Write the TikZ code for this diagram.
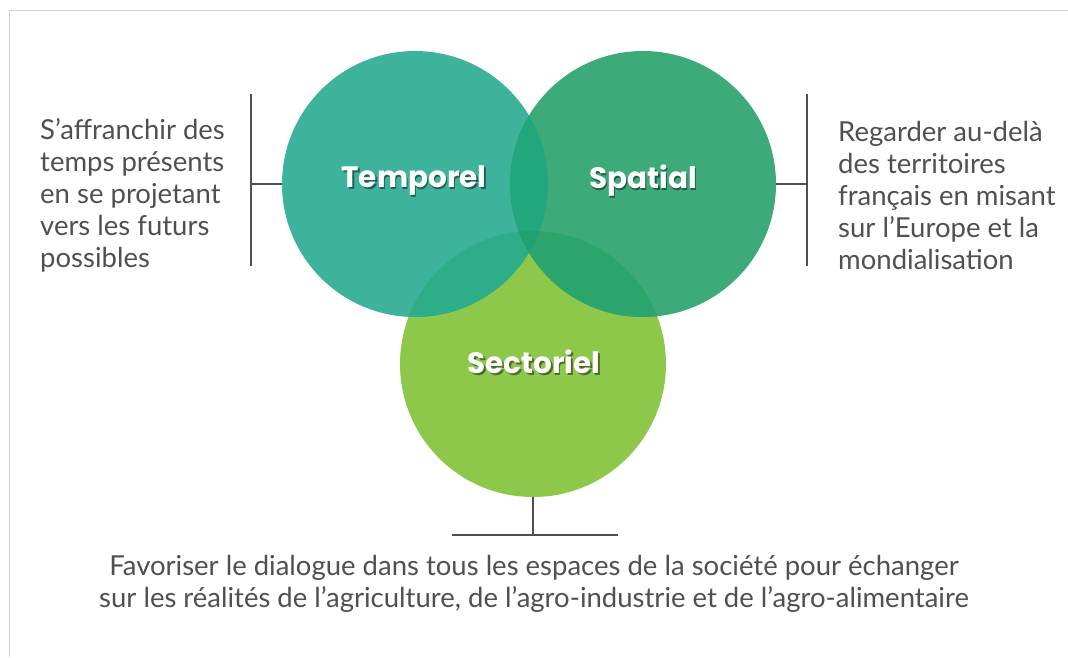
\documentclass[tikz,border=0pt]{standalone}
\usepackage{fontspec}
\setmainfont{Lato}
\newfontfamily\heavy{Poppins}
\usetikzlibrary{calc}
\definecolor{txt}{HTML}{505050}
\definecolor{tcol}{HTML}{3DB39C}
\definecolor{scol}{HTML}{3DAA7A}
\definecolor{ccol}{HTML}{8DC84B}
\definecolor{tscol}{HTML}{22A67C}
\definecolor{tccol}{HTML}{2DAE88}
\definecolor{sccol}{HTML}{2CA56C}
\definecolor{allcol}{HTML}{1FA172}
\definecolor{frame}{HTML}{D0D0D0}
\tikzset{
  bubble/.style={circle, minimum size=266pt, inner sep=0pt, draw=none},
  bracket/.style={draw=txt, line width=1.7pt},
  desc/.style={text=txt, font=\fontsize{27.5}{32}\selectfont, inner sep=0pt},
  lbl/.style={font=\heavy\bfseries\fontsize{29.5}{32}\selectfont, inner sep=0pt}
}
\newcommand{\shadowlabel}[3]{%
  \node[lbl, text=black, opacity=0.45] at ($(#1)+(1.6,1.8)$) {#3};
  \node[lbl, text=white] (#2) at (#1) {#3};}
\begin{document}
\begin{tikzpicture}[x=1pt,y=-1pt]
\useasboundingbox (0,0) rectangle (1068,657);
\fill[white] (0,0) rectangle (1068,657);
\draw[frame, line width=1pt] (1068,10) -- (9.5,10) -- (9.5,657);
% circles
\node[bubble, fill=ccol] (C) at (533,364) {};
\node[bubble, fill=tcol] (T) at (415,184) {};
\node[bubble, fill=scol] (S) at (643,184) {};
% overlaps
\begin{scope}
  \clip (415,184) circle (133);
  \fill[tccol] (533,364) circle (133);
\end{scope}
\begin{scope}
  \clip (643,184) circle (133);
  \fill[sccol] (533,364) circle (133);
\end{scope}
\begin{scope}
  \clip (415,184) circle (133);
  \fill[tscol] (643,184) circle (133);
  \clip (643,184) circle (133);
  \fill[allcol] (533,364) circle (133);
\end{scope}
% labels
\coordinate (tl) at (414,181);
\coordinate (sl) at (643,181);
\coordinate (cl) at (534,362);
\shadowlabel{tl}{TL}{Temporel}
\shadowlabel{sl}{SL}{Spatial}
\shadowlabel{cl}{CL}{Sectoriel}
% brackets
\coordinate (lt) at (251,94);
\coordinate (lb) at (251,266);
\coordinate (lm) at (251,184);
\draw[bracket] (lt) -- (lb);
\draw[bracket] (lm) -- (T.west);
\coordinate (rt) at (807,94);
\coordinate (rb) at (807,266);
\coordinate (rm) at (807,184);
\draw[bracket] (rt) -- (rb);
\draw[bracket] (S.east) -- (rm);
\coordinate (bm) at (533,535);
\coordinate (bl) at (452,535);
\coordinate (br) at (618,535);
\draw[bracket] (C.south) -- (bm);
\draw[bracket] (bl) -- (br);
% texts
\node[desc, anchor=west, align=left] (LT) at (40,195)
  {S’affranchir des\\temps présents\\en se projetant\\vers les futurs\\possibles};
\node[desc, anchor=west, align=left] (RT) at (838,195)
  {Regarder au-delà\\des territoires\\français en misant\\sur l’Europe et la\\mondialisation};
\node[desc, anchor=center, align=center] (BT) at (534,584)
  {Favoriser le dialogue dans tous les espaces de la société pour échanger\\sur les réalités de l’agriculture, de l’agro-industrie et de l’agro-alimentaire};
\end{tikzpicture}
\end{document}
